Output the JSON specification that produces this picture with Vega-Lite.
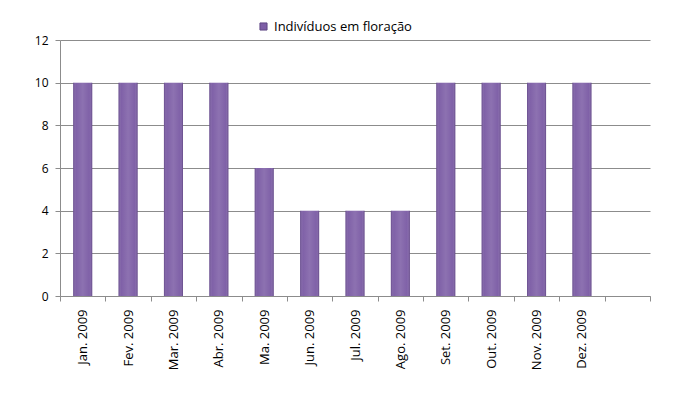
{
  "$schema": "https://vega.github.io/schema/vega-lite/v6.json",
  "width": 590,
  "height": 256,
  "autosize": {"type": "none"},
  "padding": {"left": 60, "top": 40, "right": 33, "bottom": 105},
  "background": "white",
  "config": {
    "font": "Open Sans",
    "view": {"stroke": null},
    "axis": {"labelFont": "Open Sans", "labelColor": "#000000", "labelFontSize": 12}
  },
  "data": {
    "values": [
      {"mes": "Jan. 2009", "valor": 10, "serie": "Indivíduos em floração"},
      {"mes": "Fev. 2009", "valor": 10, "serie": "Indivíduos em floração"},
      {"mes": "Mar. 2009", "valor": 10, "serie": "Indivíduos em floração"},
      {"mes": "Abr. 2009", "valor": 10, "serie": "Indivíduos em floração"},
      {"mes": "Ma. 2009", "valor": 6, "serie": "Indivíduos em floração"},
      {"mes": "Jun. 2009", "valor": 4, "serie": "Indivíduos em floração"},
      {"mes": "Jul. 2009", "valor": 4, "serie": "Indivíduos em floração"},
      {"mes": "Ago. 2009", "valor": 4, "serie": "Indivíduos em floração"},
      {"mes": "Set. 2009", "valor": 10, "serie": "Indivíduos em floração"},
      {"mes": "Out. 2009", "valor": 10, "serie": "Indivíduos em floração"},
      {"mes": "Nov. 2009", "valor": 10, "serie": "Indivíduos em floração"},
      {"mes": "Dez. 2009", "valor": 10, "serie": "Indivíduos em floração"}
    ]
  },
  "encoding": {
    "x": {
      "field": "mes",
      "type": "nominal",
      "sort": null,
      "scale": {
        "domain": ["Jan. 2009", "Fev. 2009", "Mar. 2009", "Abr. 2009", "Ma. 2009", "Jun. 2009", "Jul. 2009", "Ago. 2009", "Set. 2009", "Out. 2009", "Nov. 2009", "Dez. 2009", " "],
        "paddingInner": 0,
        "paddingOuter": 0
      },
      "axis": {
        "title": null,
        "labelAngle": -90,
        "labelAlign": "right",
        "labelBaseline": "middle",
        "labelPadding": 8,
        "labelFontSize": 13,
        "tickBand": "extent",
        "tickSize": 5,
        "tickColor": "#8c8c8c",
        "domainColor": "#8c8c8c",
        "grid": false
      }
    },
    "y": {
      "field": "valor",
      "type": "quantitative",
      "scale": {"domain": [0, 12], "nice": false},
      "axis": {
        "title": null,
        "values": [0, 2, 4, 6, 8, 10, 12],
        "grid": true,
        "gridColor": "#8c8c8c",
        "gridOpacity": 1,
        "tickColor": "#8c8c8c",
        "domainColor": "#8c8c8c",
        "tickSize": 5,
        "labelPadding": 7
      }
    }
  },
  "layer": [
    {
      "mark": {"type": "bar", "width": {"band": 0.42}},
      "encoding": {
        "color": {
          "field": "serie",
          "type": "nominal",
          "scale": {"range": ["#7d5ea6"]},
          "legend": {
            "title": null,
            "orient": "none",
            "legendX": 197,
            "legendY": -20,
            "direction": "horizontal",
            "symbolType": "square",
            "symbolSize": 50,
            "symbolStrokeColor": "#5f4784",
            "symbolStrokeWidth": 1,
            "labelFontSize": 13,
            "labelFont": "Open Sans",
            "labelColor": "#000000"
          }
        }
      }
    },
    {
      "mark": {
        "type": "bar",
        "width": {"band": 0.42},
        "color": {
          "gradient": "linear",
          "x1": 0, "y1": 0, "x2": 1, "y2": 0,
          "stops": [
            {"offset": 0, "color": "rgba(40,20,70,0.3)"},
            {"offset": 0.15, "color": "rgba(255,255,255,0.02)"},
            {"offset": 0.5, "color": "rgba(255,255,255,0.12)"},
            {"offset": 0.85, "color": "rgba(255,255,255,0.02)"},
            {"offset": 1, "color": "rgba(40,20,70,0.35)"}
          ]
        }
      }
    }
  ]
}
